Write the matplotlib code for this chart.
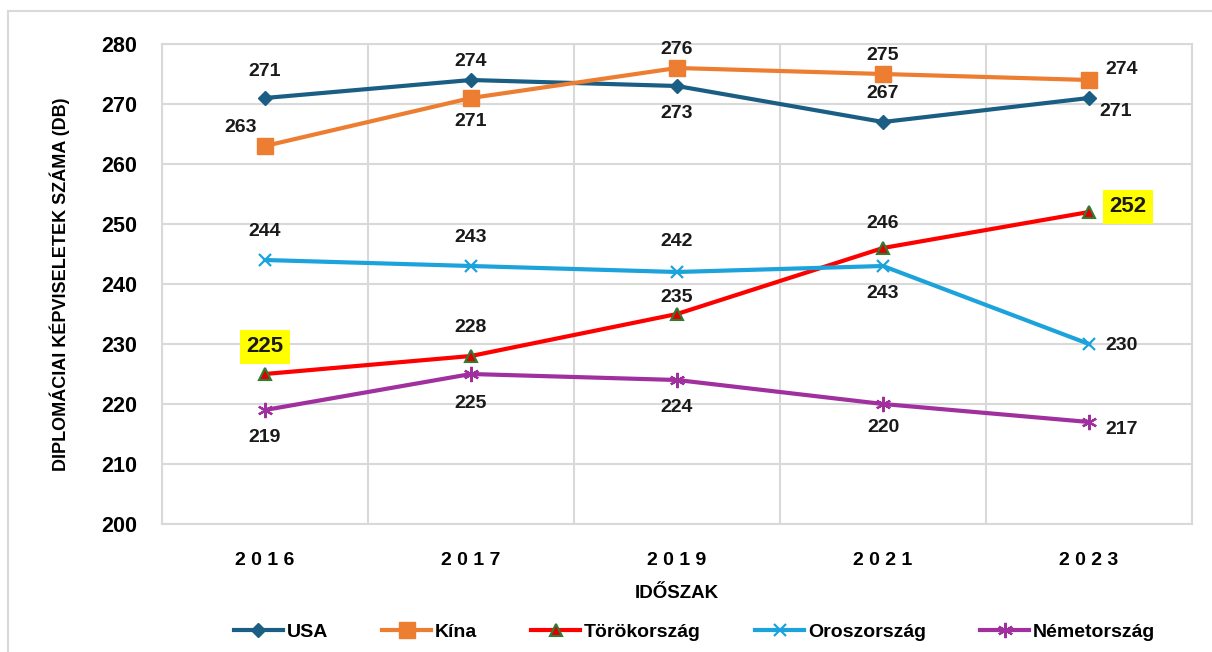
import matplotlib
matplotlib.use("Agg")
import matplotlib.pyplot as plt
from matplotlib.lines import Line2D

plt.rcParams['font.family'] = ['Liberation Sans', 'DejaVu Sans']

years = ['2016', '2017', '2019', '2021', '2023']
usa = [271, 274, 273, 267, 271]
kina = [263, 271, 276, 275, 274]
torok = [225, 228, 235, 246, 252]
orosz = [244, 243, 242, 243, 230]
nemet = [219, 225, 224, 220, 217]

# label placement per point: (dx px, dy px)
usa_off = [(0, 27), (0, 18), (0, -27), (0, 29), (27, -14)]
kina_off = [(-24, 18), (0, -24), (0, 18), (0, 18), (33, 10)]
torok_off = [(0, 27), (0, 28), (0, 16), (0, 25), (39, 5)]
orosz_off = [(0, 29), (0, 29), (0, 30), (0, -28), (33, -1)]
nemet_off = [(0, -27), (0, -29), (0, -27), (0, -23), (33, -7)]
highlight = {(2, 0), (2, 4)}

fig = plt.figure(figsize=(12.12, 6.52), dpi=100)
ax = fig.add_axes([162/1212, 1-524/652, 1030/1212, 480/652])

x = list(range(len(years)))
series = [
    ('USA', usa, dict(color='#1B5E84', marker='D', ms=7, mfc='#1B5E84', mec='#1B5E84'), usa_off),
    ('Kína', kina, dict(color='#ED7D31', marker='s', ms=11, mfc='#ED7D31', mec='#ED7D31'), kina_off),
    ('Törökország', torok, dict(color='#FF0000', marker='^', ms=9, mfc='#E00000', mec='#2E7D32', mew=1.5), torok_off),
    ('Oroszország', orosz, dict(color='#1CA3DC', marker='x', ms=9, mew=1.6, mec='#1CA3DC'), orosz_off),
    ('Németország', nemet, dict(color='#A0309E', marker=(6, 2, 0), ms=11, mew=1.6, mec='#A0309E'), nemet_off),
]

handles = []
for i, (name, vals, st, offs) in enumerate(series):
    line, = ax.plot(x, vals, lw=3, zorder=3, label=name, **st)
    handles.append(line)
    for j, (v, off) in enumerate(zip(vals, offs)):
        kw = {}
        if (i, j) in highlight:
            kw['bbox'] = dict(boxstyle='square,pad=0.3', fc='#FFFF00', ec='none')
            fs = 16
        else:
            fs = 14
        ax.annotate(str(v), (j, v), xytext=off, textcoords='offset pixels',
                    ha='center', va='center', fontsize=fs, fontweight='bold',
                    color='#1a1a1a', zorder=5, **kw)

ax.set_xlim(-0.5, 4.5)
ax.set_ylim(200, 280)
ax.set_yticks(range(200, 281, 10))
ax.set_xticks(x)
ax.set_xticklabels([' '.join(y) for y in years], fontsize=14, fontweight='bold')
ax.set_xticks([k - 0.5 for k in range(6)], minor=True)
ax.tick_params(axis='y', labelsize=15.5, length=0, pad=18)
ax.tick_params(axis='x', which='both', length=0, pad=20)
for lab in ax.get_yticklabels():
    lab.set_fontweight('bold')
ax.grid(axis='y', which='major', color='#D9D9D9', lw=1.5)
ax.grid(axis='x', which='minor', color='#D9D9D9', lw=1.5)
ax.set_axisbelow(True)
for s in ax.spines.values():
    s.set_color('#D9D9D9')
    s.set_linewidth(1.5)

ax.set_xlabel('IDŐSZAK', fontsize=13.5, fontweight='bold', labelpad=12)
ax.set_ylabel('DIPLOMÁCIAI KÉPVISELETEK SZÁMA (DB)', fontsize=13, fontweight='bold',
              labelpad=22)

fig.legend(handles=handles, loc='center', bbox_to_anchor=(0.573, 1-632/652), ncol=5,
           frameon=False, handlelength=2.5, columnspacing=2.8,
           handletextpad=0.2, prop=dict(weight='bold', size=14))

# outer chart border (top and left edges)
fig.add_artist(Line2D([8/1212, 1.0], [1-11/652, 1-11/652], color='#D9D9D9', lw=1.5,
                      transform=fig.transFigure))
fig.add_artist(Line2D([8/1212, 8/1212], [0, 1-11/652], color='#D9D9D9', lw=1.5,
                      transform=fig.transFigure))

fig.savefig('out.png', dpi=100, facecolor='white')
